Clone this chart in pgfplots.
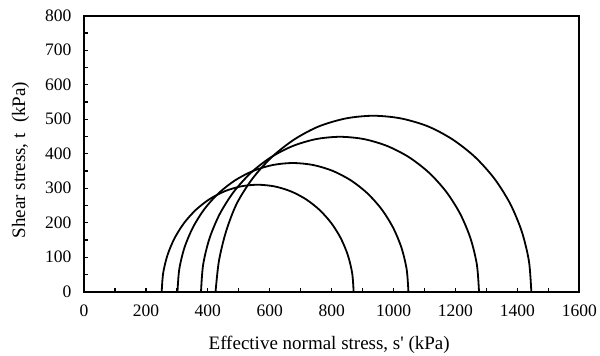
\documentclass[border=0pt]{standalone}
\usepackage{pgfplots}
\pgfplotsset{compat=1.18}
\usepackage{fontspec}
\setmainfont{Liberation Serif}
\begin{document}
\begin{tikzpicture}
\begin{axis}[
  scale only axis,
  width=495.3pt, height=276pt,
  xmin=0, xmax=1600, ymin=0, ymax=800,
  xtick={0,200,...,1600},
  minor xtick={100,300,...,1500},
  ytick={0,100,...,800},
  minor ytick={50,150,...,750},
  tick align=inside,
  xtick pos=bottom, ytick pos=left,
  major tick length=4pt, minor tick length=4pt,
  every tick/.style={black, line width=1.3pt},
  minor tick style={black, line width=1.3pt},
  axis line style={black, line width=1.8pt},
  /pgf/number format/assume math mode=true,
  /pgf/number format/1000 sep={},
  tick label style={font=\fontsize{17.5}{20}\selectfont},
  xticklabel style={yshift=-10pt},
  yticklabel style={xshift=-9pt},
  label style={font=\fontsize{19}{22}\selectfont},
  xlabel={Effective normal stress, s\textquotesingle\ (kPa)},
  ylabel={Shear stress, t\hspace{0.3em} (kPa)},
  xlabel style={at={(axis description cs:0.495,0)}, anchor=base, yshift=-57.5pt},
  ylabel style={at={(axis description cs:-0.1191,0.477)}, anchor=base},
  clip=false,
]
\coordinate (ll) at (axis description cs:0,0);
\coordinate (ur) at (axis description cs:1,1);
\addplot[black, line width=1.8pt, smooth] coordinates {
(871,0) (866.3,53.8) (852.3,106.0) (829.5,155.0) (798.5,199.3) (760.3,237.5) (716.0,268.5) (667.0,291.3) (614.8,305.3) (561,310) (507.2,305.3) (455.0,291.3) (406.0,268.5) (361.7,237.5) (323.5,199.3) (292.5,155.0) (269.7,106.0) (255.7,53.8) (251,0)};
\addplot[black, line width=1.8pt, smooth] coordinates {
(1048,0) (1042.3,64.8) (1025.5,127.6) (998.0,186.5) (960.7,239.8) (914.8,285.7) (861.5,323.0) (802.6,350.5) (739.8,367.3) (675,373) (610.2,367.3) (547.4,350.5) (488.5,323.0) (435.2,285.7) (389.3,239.8) (352.0,186.5) (324.5,127.6) (307.7,64.8) (302,0)};
\addplot[black, line width=1.8pt, smooth] coordinates {
(1276,0) (1269.2,78.0) (1248.9,153.6) (1215.9,224.5) (1171.0,288.6) (1115.6,344.0) (1051.5,388.9) (980.6,421.9) (905.0,442.2) (827,449) (749.0,442.2) (673.4,421.9) (602.5,388.9) (538.4,344.0) (483.0,288.6) (438.1,224.5) (405.1,153.6) (384.8,78.0) (378,0)};
\addplot[black, line width=1.8pt, smooth] coordinates {
(1445,0) (1437.3,88.6) (1414.2,174.4) (1376.7,255.0) (1325.7,327.8) (1262.7,390.7) (1190.0,441.7) (1111.2,479.2) (1023.6,502.3) (935,510) (846.4,502.3) (758.8,479.2) (680.0,441.7) (607.3,390.7) (544.3,327.8) (493.3,255.0) (458.8,174.4) (435.8,88.6) (425,0)};
\end{axis}
\pgfresetboundingbox
\path[use as bounding box] ([xshift=-84pt,yshift=-64.3pt]ll) rectangle ([xshift=20.7pt,yshift=15.7pt]ur);
\end{tikzpicture}
\end{document}
